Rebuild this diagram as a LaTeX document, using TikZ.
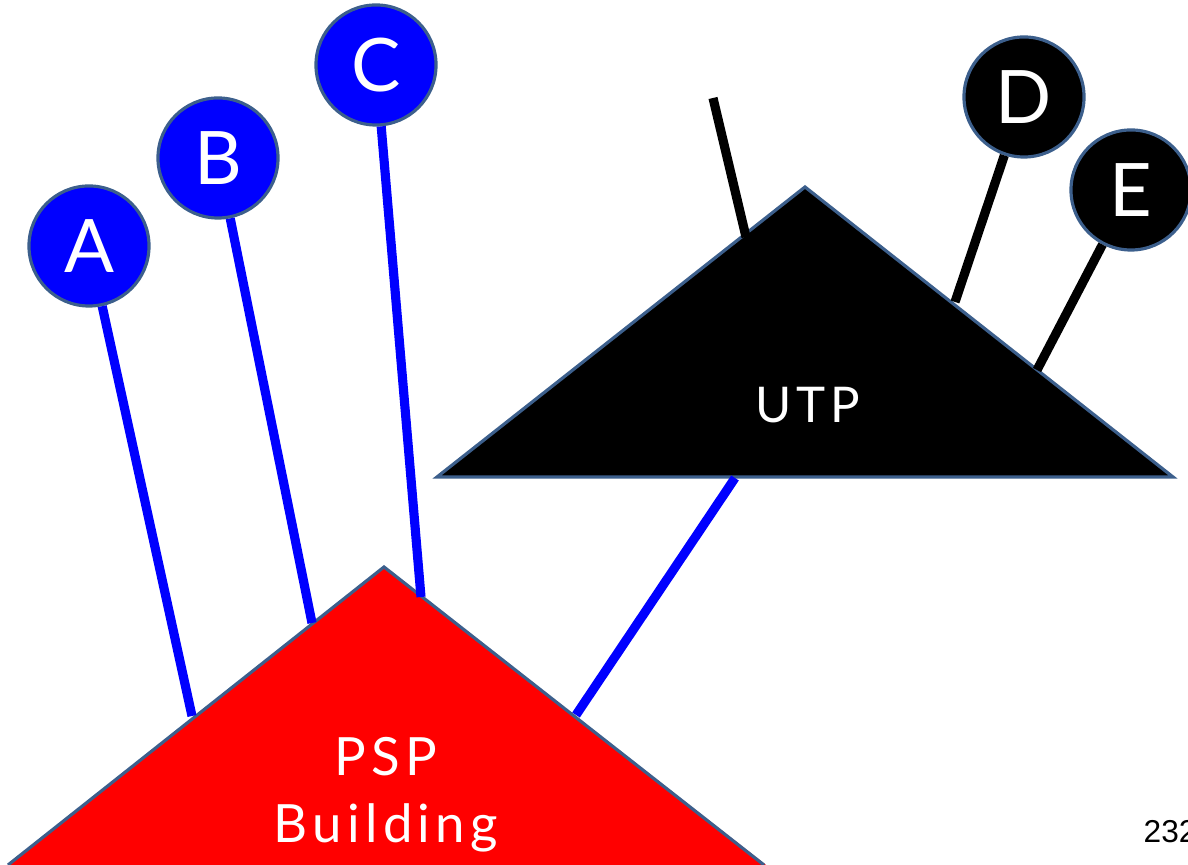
\documentclass[tikz,border=0pt]{standalone}
\usepackage{fontspec}
\setmainfont{Lato}
\newfontfamily\widefont[LetterSpace=10]{Lato}
\newfontfamily\numfont{Liberation Sans}
\definecolor{rimblue}{RGB}{60,95,140}
\begin{document}
\begin{tikzpicture}[x=0.01cm,y=-0.01cm,
    site/.style={draw=rimblue,line width=0.9pt,circle,minimum size=1.2cm,inner sep=0pt,
      text=white,font=\fontsize{21}{21}\selectfont},
    hill/.style={draw=rimblue,line width=0.9pt,line join=miter},
    link/.style={blue,line width=2.6pt},
    blink/.style={black,line width=2.6pt}]
    \useasboundingbox (0,0) rectangle (1188,865);
    % triangles
    \coordinate (psptop) at (384,567);
    \fill[red] (psptop) -- (0,872) -- (775,872) -- cycle;
    \draw[hill] (8,865) -- (psptop) -- (764,865);
    \coordinate (utptop) at (805,187);
    \filldraw[hill,fill=black] (utptop) -- (437,477) -- (1173,477) -- cycle;
    \node[white,font=\widefont\fontsize{15}{19}\selectfont,align=center] (psp) at (386,795) {PSP\\Building};
    \node[white,font=\widefont\fontsize{14}{14}\selectfont] (utp) at (808,405) {UTP};

    \node[site,fill=blue] (A) at (89,246) {A};
    \node[site,fill=blue] (B) at (218,158) {B};
    \node[site,fill=blue] (C) at (376,65) {C};
    \node[site,fill=black] (D) at (1024,97) {D};
    \node[site,fill=black] (E) at (1131,190) {E};

    \coordinate (pa) at (192,716);
    \coordinate (pb) at (312,623);
    \coordinate (pc) at (421,597);
    \coordinate (pu) at (576,715);
    \coordinate (ub) at (735,478);
    \coordinate (us) at (746,237);
    \coordinate (free) at (713,98);
    \coordinate (ud) at (955,302);
    \coordinate (ue) at (1037,370);

    \draw (A) edge[link] (pa) (B) edge[link] (pb) (C) edge[link] (pc)
          (ub) edge[link] (pu)
          (free) edge[blink] (us) (D) edge[blink] (ud) (E) edge[blink] (ue);

    \node[anchor=west,inner sep=0pt,font=\numfont\fontsize{9}{9}\selectfont] (page) at (1143,832) {232};
\end{tikzpicture}
\end{document}
